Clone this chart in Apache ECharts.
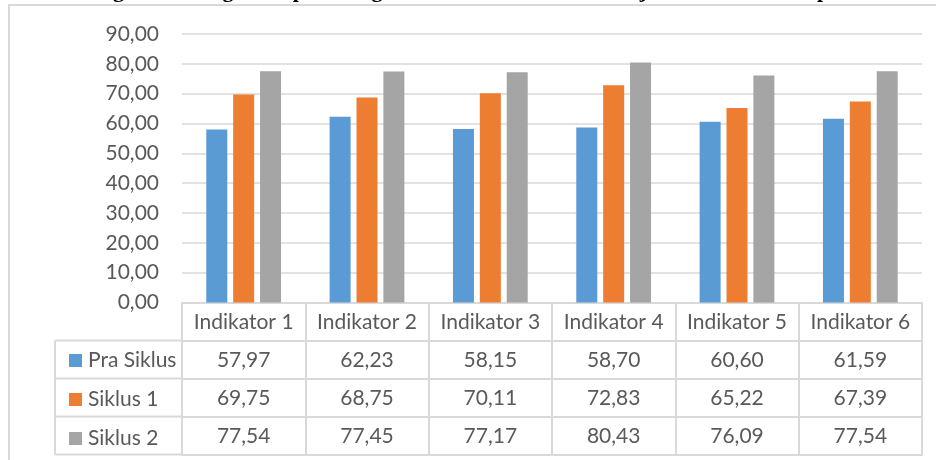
<!DOCTYPE html>
<html>
<head>
<meta charset="utf-8">
<script src="https://cdn.jsdelivr.net/npm/echarts@6/dist/echarts.min.js"></script>
<style>
  html, body { margin: 0; padding: 0; background: #ffffff; }
  #chart { width: 936px; height: 460px; }
</style>
</head>
<body>
<div id="chart"></div>
<script>
// Categories and series values
const categories = ['Indikator 1', 'Indikator 2', 'Indikator 3', 'Indikator 4', 'Indikator 5', 'Indikator 6'];
const seriesNames = ['Pra Siklus', 'Siklus 1', 'Siklus 2'];
const praSiklus = [57.97, 62.23, 58.15, 58.70, 60.60, 61.59];
const siklus1 = [69.75, 68.75, 70.11, 72.83, 65.22, 67.39];
const siklus2 = [77.54, 77.45, 77.17, 80.43, 76.09, 77.54];
const yTicks = [0, 10, 20, 30, 40, 50, 60, 70, 80, 90];

const titleText = 'Diagram Peningkatan pada Kegiatan Siswa dalam Pembelajaran Matematika pada Siklus I dan II';

const colors = ['#5B9BD5', '#ED7D31', '#A5A5A5'];
const seriesValues = [praSiklus, siklus1, siklus2];

const FONT = 'Lato';
const TEXT_COLOR = '#595959';
const LINE_COLOR = '#d9d9d9';

// layout of plot area and data table
const GRID_LEFT = 182, GRID_RIGHT = 922, GRID_TOP = 34, GRID_BOTTOM = 302.5;
const ROW_H = 38;
const LEGEND_LEFT = 55;

const fmt = v => v.toFixed(2).replace('.', ',');

const chart = echarts.init(document.getElementById('chart'), null, { renderer: 'canvas' });

// header row + one axis per table row (each axis line is a horizontal rule,
// each tick a vertical cell border)
const xAxes = [];
const rowCount = seriesValues.length + 1;
for (let r = 0; r <= rowCount; r++) {
  const values = r === 0 ? null : seriesValues[r - 1];
  xAxes.push({
    type: 'category',
    data: categories,
    position: 'bottom',
    offset: r * ROW_H,
    axisLine: { show: true, lineStyle: { color: LINE_COLOR, width: 2 } },
    axisTick: { show: r < rowCount, length: ROW_H, lineStyle: { color: LINE_COLOR, width: 2 } },
    axisLabel: {
      show: r < rowCount,
      interval: 0,
      margin: 9,
      color: TEXT_COLOR,
      fontFamily: FONT,
      fontSize: 21,
      lineHeight: 21,
      formatter: (val, idx) => (values ? fmt(values[idx]) : val)
    },
    splitLine: { show: false }
  });
}

const tableTop = GRID_BOTTOM + ROW_H;
const tableBottom = GRID_BOTTOM + rowCount * ROW_H;
const graphics = [
  // outer frame
  { type: 'rect', shape: { x: 9, y: 5, width: 960, height: 480 }, style: { fill: 'none', stroke: LINE_COLOR, lineWidth: 2 }, silent: true },
  // title line, mostly above the visible area
  { type: 'text', x: 80, y: -9, style: { text: titleText, font: 'bold 22px "Liberation Serif"', fill: '#000000', textVerticalAlign: 'middle' }, silent: true },
  // legend column border
  { type: 'line', shape: { x1: LEGEND_LEFT, y1: tableTop, x2: LEGEND_LEFT, y2: tableBottom }, style: { stroke: LINE_COLOR, lineWidth: 2 }, silent: true }
];
for (let r = 1; r <= rowCount; r++) {
  const y = GRID_BOTTOM + r * ROW_H;
  graphics.push({ type: 'line', shape: { x1: LEGEND_LEFT, y1: y, x2: GRID_LEFT, y2: y }, style: { stroke: LINE_COLOR, lineWidth: 2 }, silent: true });
}

const option = {
  animation: false,
  color: colors,
  grid: { left: GRID_LEFT, right: 936 - GRID_RIGHT, top: GRID_TOP, bottom: 460 - GRID_BOTTOM, containLabel: false },
  legend: {
    data: seriesNames,
    orient: 'vertical',
    left: 64,
    top: tableTop + ROW_H / 2 - 14.5,
    itemWidth: 13,
    itemHeight: 13,
    itemGap: ROW_H - 20,
    icon: 'rect',
    selectedMode: false,
    textStyle: { color: TEXT_COLOR, fontFamily: FONT, fontSize: 21, lineHeight: 21, padding: [0, 0, 0, 1] }
  },
  xAxis: xAxes,
  yAxis: {
    type: 'value',
    min: yTicks[0],
    max: yTicks[yTicks.length - 1],
    interval: yTicks[1] - yTicks[0],
    axisLine: { show: false },
    axisTick: { show: false },
    axisLabel: { margin: 23, color: TEXT_COLOR, fontFamily: FONT, fontSize: 21, formatter: v => fmt(v) },
    splitLine: { lineStyle: { color: LINE_COLOR, width: 1.5 } }
  },
  graphic: graphics,
  series: seriesNames.map((name, i) => ({
    name: name,
    type: 'bar',
    xAxisIndex: 0,
    yAxisIndex: 0,
    data: seriesValues[i],
    barWidth: 21,
    barGap: '28%',
    itemStyle: { color: colors[i] }
  }))
};

chart.setOption(option);
</script>
</body>
</html>
